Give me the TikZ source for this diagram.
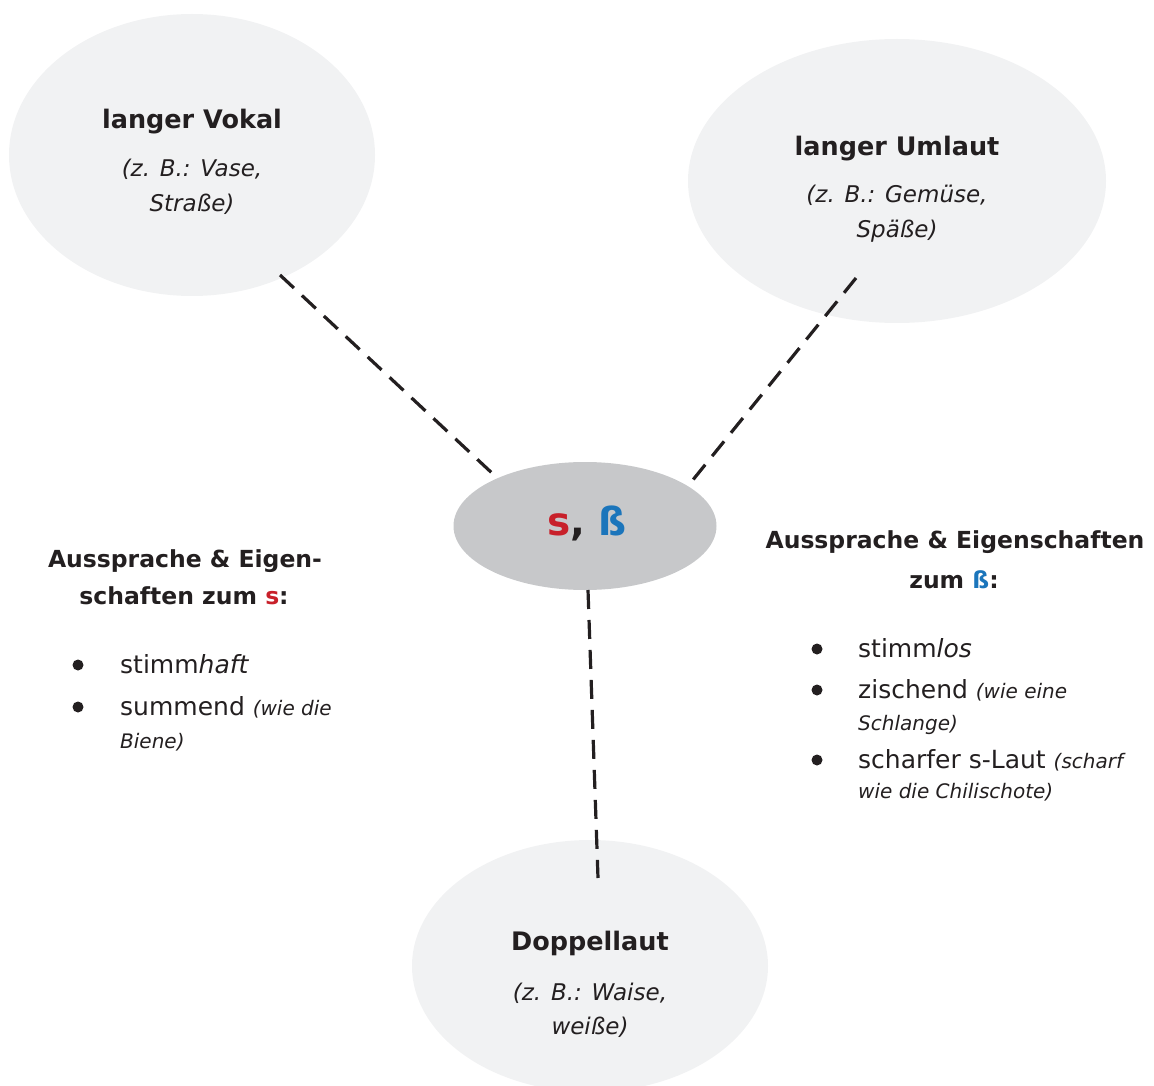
\documentclass[tikz,border=0pt]{standalone}
\usepackage{fontspec}
\setmainfont{DejaVu Sans}
\usetikzlibrary{shapes.geometric}
\definecolor{txt}{HTML}{231F20}
\definecolor{bubble}{HTML}{F1F2F3}
\definecolor{core}{HTML}{C7C8CA}
\definecolor{sred}{HTML}{C8202A}
\definecolor{sblue}{HTML}{1B75BB}
\newcommand{\smallit}{\fontsize{20}{24}\selectfont\itshape}
\tikzset{
  bub/.style={ellipse, fill=bubble, draw=none, inner sep=0pt},
  corebub/.style={ellipse, fill=core, draw=none, inner sep=0pt},
  link/.style={line width=3.2pt, dash pattern=on 19pt off 11pt, txt},
  ttl/.style={anchor=base, inner sep=0pt, text=txt, font=\fontsize{25.5}{30}\selectfont\bfseries},
  ex/.style={anchor=base, inner sep=0pt, text=txt, font=\fontsize{23}{28}\selectfont\itshape},
  head/.style={anchor=base, inner sep=0pt, text=txt, font=\fontsize{23.5}{28}\selectfont\bfseries},
  item/.style={anchor=base west, inner sep=0pt, text=txt, font=\fontsize{25}{30}\selectfont},
  bul/.style={circle, fill=txt, draw=none, inner sep=0pt, minimum size=11pt},
  smallnote/.style={font=\smallit},
}
\begin{document}
\begin{tikzpicture}[x=1pt,y=-1pt]
\useasboundingbox (0,0) rectangle (1154,1086);
% bubbles
\node[bub, minimum width=366pt, minimum height=282pt] (vok) at (192,155) {};
\node[bub, minimum width=418pt, minimum height=284pt] (uml) at (897,181) {};
\node[bub, minimum width=356pt, minimum height=252pt] (dop) at (590,966) {};
\node[corebub, minimum width=263pt, minimum height=128pt] (ctr) at (585,526) {};
% connector ends
\coordinate (vokEnd) at (280,275);
\coordinate (ctrA) at (493,474);
\coordinate (umlEnd) at (856,278);
\coordinate (ctrB) at (688,486);
\coordinate (ctrC) at (588,590);
\coordinate (dopEnd) at (598,878);
\draw[link] (vokEnd) -- (ctrA);
\draw[link] (umlEnd) -- (ctrB);
\draw[link] (ctrC) -- (dopEnd);
% bubble texts
\node[ttl] (vokT) at (192,129) {langer Vokal};
\node[ex] (vokE1) at (192,177) {(z. B.: Vase,};
\node[ex] (vokE2) at (192,212) {Straße)};
\node[ttl] (umlT) at (897,156) {langer Umlaut};
\node[ex] (umlE1) at (897,203) {(z. B.: Gemüse,};
\node[ex] (umlE2) at (897,238) {Späße)};
\node[ttl] (dopT) at (590,950) {Doppellaut};
\node[ex] (dopE1) at (590,1000) {(z. B.: Waise,};
\node[ex] (dopE2) at (590,1034) {weiße)};
\node[anchor=base, inner sep=0pt, font=\fontsize{39}{44}\selectfont\bfseries] (ctrT) at (587,535) {\textcolor{sred}{s}\textcolor{txt}{,} \textcolor{sblue}{ß}};
% left block
\node[head] (lh1) at (185,567) {Aussprache \& Eigen-};
\node[head] (lh2) at (184,604) {schaften zum \textcolor{sred}{s}:};
\node[bul] (lb1) at (78,665) {};
\node[item] (li1) at (120,673) {stimm\textit{haft}};
\node[bul] (lb2) at (78,707) {};
\node[item] (li2) at (120,715) {summend {\smallit (wie die}};
\node[item, smallnote] (li2b) at (120,748) {Biene)};
% right block
\node[head] (rh1) at (955,548) {Aussprache \& Eigenschaften};
\node[head] (rh2) at (954,588) {zum \textcolor{sblue}{ß}:};
\node[bul] (rb1) at (817,649) {};
\node[item] (ri1) at (858,657) {stimm\textit{los}};
\node[bul] (rb2) at (817,690) {};
\node[item] (ri2) at (858,698) {zischend {\smallit (wie eine}};
\node[item, smallnote] (ri2b) at (858,730) {Schlange)};
\node[bul] (rb3) at (817,760) {};
\node[item] (ri3) at (858,768) {scharfer s-Laut {\smallit (scharf}};
\node[item, smallnote] (ri3b) at (858,798) {wie die Chilischote)};
\end{tikzpicture}
\end{document}
